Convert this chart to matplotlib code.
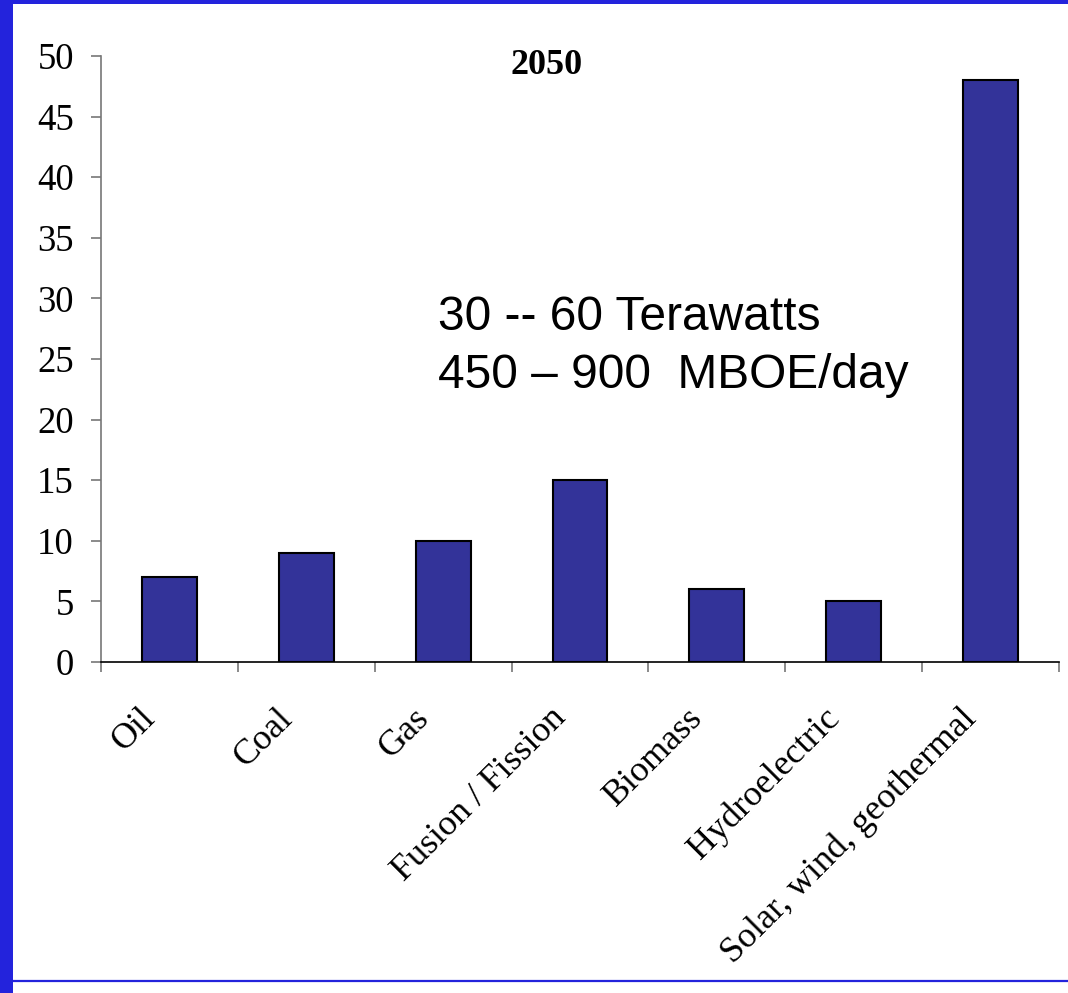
import matplotlib
matplotlib.use("Agg")
import matplotlib.pyplot as plt
from matplotlib.transforms import ScaledTranslation
from matplotlib.lines import Line2D
from matplotlib.patches import Rectangle

categories = ["Oil", "Coal", "Gas", "Fusion / Fission", "Biomass",
              "Hydroelectric", "Solar, wind, geothermal"]
values = [7, 9, 10, 15, 6, 5, 48]
yticks = [0, 5, 10, 15, 20, 25, 30, 35, 40, 45, 50]
title = "2050"
note_lines = ["30 -- 60 Terawatts", "450 \u2013 900  MBOE/day"]

W, H = 1068, 993
fig = plt.figure(figsize=(W / 100, H / 100), dpi=100)
fig.patch.set_facecolor("white")

blue = "#2323DC"
# frame decorations
fig.patches.append(Rectangle((0, 0), 13 / W, 1, transform=fig.transFigure,
                             facecolor=blue, edgecolor="none", zorder=5))
fig.patches.append(Rectangle((0, 1 - 4 / H), 1, 4 / H, transform=fig.transFigure,
                             facecolor=blue, edgecolor="none", zorder=5))
fig.lines.append(Line2D([13 / W, 1], [1 - 981 / H, 1 - 981 / H],
                        transform=fig.transFigure, color=blue, lw=1.6))

left, right = 101 / W, 1059 / W
bottom, top = 1 - 662 / H, 1 - 56 / H
ax = fig.add_axes([left, bottom, right - left, top - bottom])

x = list(range(len(categories)))
ax.bar(x, values, width=0.40, color="#333399", edgecolor="black", linewidth=1.5,
       zorder=3)

ax.set_xlim(-0.5, len(categories) - 0.5)
ax.set_ylim(0, 50)
ax.set_yticks(yticks)
ax.set_yticklabels([str(v) for v in yticks], fontfamily="Liberation Serif",
                   fontsize=26.5)

ax.set_xticks([i - 0.5 for i in range(len(categories) + 1)])
ax.set_xticklabels([])
ax.set_xticks(x, minor=True)
ax.set_xticklabels(categories, minor=True, rotation=45, ha="right",
                   va="center", rotation_mode="anchor",
                   fontfamily="Liberation Serif", fontsize=26)
ax.tick_params(axis="x", which="minor", length=0, pad=37)
ax.tick_params(axis="x", which="major", direction="out", length=7.5,
               width=1.2, color="#777777")
ax.tick_params(axis="y", direction="out", length=7.5, width=1.2,
               color="#777777", pad=12)
for lbl in ax.get_xticklabels(minor=True):
    lbl.set_transform(lbl.get_transform() +
                      ScaledTranslation(-0.19, 0, fig.dpi_scale_trans))

for s in ["top", "right"]:
    ax.spines[s].set_visible(False)
ax.spines["left"].set_color("#777777")
ax.spines["left"].set_linewidth(1.2)
ax.spines["bottom"].set_color("black")
ax.spines["bottom"].set_linewidth(1.2)

fig.text(547 / W, 1 - 66 / H, title, ha="center", va="center",
         fontfamily="Liberation Serif", fontweight="bold", fontsize=26)

fig.text(438 / W, 1 - 330 / H, note_lines[0], ha="left", va="baseline",
         fontfamily="Liberation Sans", fontsize=34.5)
fig.text(438 / W, 1 - 388 / H, note_lines[1], ha="left", va="baseline",
         fontfamily="Liberation Sans", fontsize=34.5)

fig.savefig("out.png", dpi=100)
